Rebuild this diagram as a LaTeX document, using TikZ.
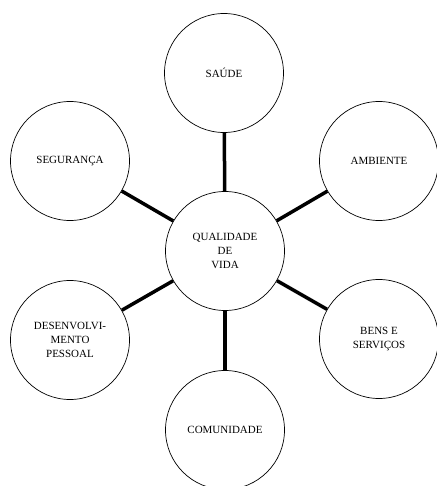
\documentclass[tikz,border=0pt]{standalone}
\usepackage{fontspec}
\setmainfont{Liberation Serif}
\usepackage{tikz}

\tikzset{
  area/.style={circle, draw, line width=0.7pt, minimum size=119pt, inner sep=0pt, align=center,
    font=\fontsize{11}{14}\selectfont},
  link/.style={line width=3.5pt}
}

\begin{document}
\begin{tikzpicture}[x=1pt,y=-1pt]
                \useasboundingbox (0,0) rectangle (436,486);
                \node[area] (vida) at (225,251) {QUALIDADE\\DE\\VIDA};
                \node[area] (saude) at (224,73) {SAÚDE};
                \node[area] (ambiente) at (379,161) {AMBIENTE};
                \node[area] (bens) at (379,339) {BENS E\\SERVIÇOS};
                \node[area] (comunidade) at (225,430) {COMUNIDADE};
                \node[area] (pessoal) at (70,340) {DESENVOLVI-\\MENTO\\PESSOAL};
                \node[area] (seguranca) at (70,161) {SEGURANÇA};
                \foreach \n in {saude,ambiente,bens,comunidade,pessoal,seguranca}
                    \draw[link] (vida) -- (\n);
            \end{tikzpicture}
\end{document}
